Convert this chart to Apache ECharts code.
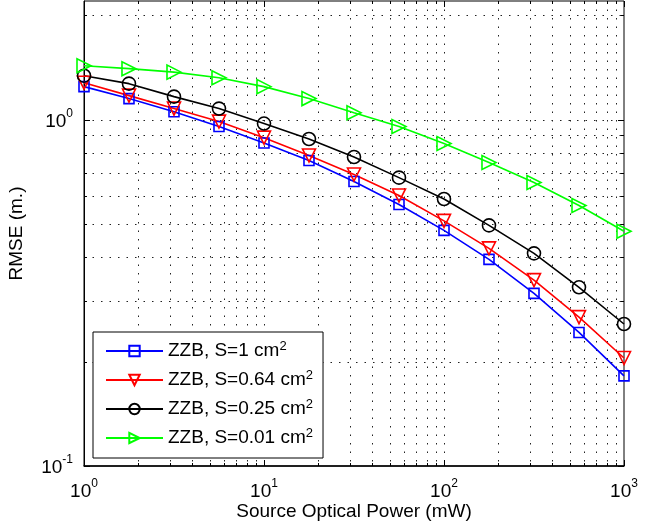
<!DOCTYPE html>
<html>
<head>
<meta charset="utf-8">
<script src="https://cdn.jsdelivr.net/npm/echarts@6/dist/echarts.min.js"></script>
<style>
html,body{margin:0;padding:0;background:#fff;}
#chart{width:657px;height:529px;}
</style>
</head>
<body>
<div id="chart"></div>
<script>
// ---- data ----
const powerMW = [1, 1.778, 3.162, 5.623, 10, 17.78, 31.62, 56.23, 100, 177.8, 316.2, 562.3, 1000];
const rmseS100 = [1.245, 1.150, 1.054, 0.955, 0.856, 0.762, 0.663, 0.569, 0.479, 0.395, 0.315, 0.243, 0.182];
const rmseS064 = [1.278, 1.173, 1.076, 0.987, 0.887, 0.788, 0.694, 0.604, 0.510, 0.425, 0.344, 0.269, 0.205];
const rmseS025 = [1.339, 1.270, 1.165, 1.076, 0.974, 0.879, 0.780, 0.680, 0.590, 0.495, 0.411, 0.328, 0.257];
const rmseS001 = [1.431, 1.403, 1.371, 1.321, 1.245, 1.150, 1.047, 0.955, 0.853, 0.752, 0.658, 0.565, 0.476];
const seriesNames = ['ZZB, S=1 cm', 'ZZB, S=0.64 cm', 'ZZB, S=0.25 cm', 'ZZB, S=0.01 cm'];
const xMajorTicks = [1, 10, 100, 1000];
const xMinorTicks = [2,3,4,5,6,7,8,9,20,30,40,50,60,70,80,90,200,300,400,500,600,700,800,900];
const yMajorTicks = [0.1, 1];
const yMinorTicks = [0.2,0.3,0.4,0.5,0.6,0.7,0.8,0.9,2];
const xRange = [1, 1000];
const yRange = [0.1, 2.2];
const xTitle = 'Source Optical Power (mW)';
const yTitle = 'RMSE (m.)';

const FONT = 'Liberation Sans, Arial, Helvetica, sans-serif';
const colors = ['#0000ff', '#ff0000', '#000000', '#00ff00'];
const symbols = ['rect', 'triangle', 'circle', 'triangle'];
const rotates = [0, 180, 0, -90];
const sizes = [10, 13, 13, 14];
const values = [rmseS100, rmseS064, rmseS025, rmseS001];

function powLabel(v) {
  const e = Math.log10(v);
  const r = Math.round(e);
  if (Math.abs(e - r) > 1e-6) return '';
  return '10{s|' + (r < 0 ? '-' + (-r) : r) + '}';
}

const dotStyle = {stroke: '#222', lineWidth: 1, lineDash: [1.5, 7]};

function xGridSeries(vals, tickLen) {
  return {
    type: 'custom', silent: true, z: 1, clip: false,
    data: vals.map(v => [v, 1]),
    renderItem: function (params, api) {
      const cs = params.coordSys;
      const x = Math.round(api.coord([api.value(0), 1])[0]) + 0.5;
      const top = cs.y, bot = cs.y + cs.height;
      const ch = [];
      if (Math.abs(x - cs.x) > 2 && Math.abs(x - (cs.x + cs.width)) > 2) {
        ch.push({type: 'line', shape: {x1: x, y1: top, x2: x, y2: bot}, style: dotStyle});
      }
      ch.push({type: 'line', shape: {x1: x, y1: bot, x2: x, y2: bot - tickLen}, style: {stroke: '#000', lineWidth: 1}});
      ch.push({type: 'line', shape: {x1: x, y1: top, x2: x, y2: top + tickLen}, style: {stroke: '#000', lineWidth: 1}});
      return {type: 'group', children: ch};
    }
  };
}
function yGridSeries(vals, tickLen) {
  return {
    type: 'custom', silent: true, z: 1, clip: false,
    data: vals.map(v => [1, v]),
    renderItem: function (params, api) {
      const cs = params.coordSys;
      const y = Math.round(api.coord([1, api.value(1)])[1]) + 0.5;
      const left = cs.x, right = cs.x + cs.width;
      const ch = [];
      if (Math.abs(y - cs.y) > 2 && Math.abs(y - (cs.y + cs.height)) > 2) {
        ch.push({type: 'line', shape: {x1: left, y1: y, x2: right, y2: y}, style: dotStyle});
      }
      ch.push({type: 'line', shape: {x1: left, y1: y, x2: left + tickLen, y2: y}, style: {stroke: '#000', lineWidth: 1}});
      ch.push({type: 'line', shape: {x1: right, y1: y, x2: right - tickLen, y2: y}, style: {stroke: '#000', lineWidth: 1}});
      return {type: 'group', children: ch};
    }
  };
}

const lineSeries = seriesNames.map((name, i) => ({
  name: name,
  type: 'line',
  z: 5,
  data: powerMW.map((x, j) => [x, values[i][j]]),
  symbol: symbols[i],
  symbolRotate: rotates[i],
  symbolSize: sizes[i],
  showAllSymbol: true,
  lineStyle: {color: colors[i], width: 1.6},
  itemStyle: {color: 'rgba(0,0,0,0)', borderColor: colors[i], borderWidth: 1.6},
  emphasis: {disabled: true}
}));

const supStyle = {fontSize: 12, fontFamily: FONT, color: '#000', verticalAlign: 'top', lineHeight: 12};

const chart = echarts.init(document.getElementById('chart'), null, {renderer: 'canvas'});
chart.setOption({
  animation: false,
  backgroundColor: '#fff',
  grid: {left: 84, right: 33, top: 1, bottom: 63, containLabel: false, outerBoundsMode: 'none',
         show: true, borderColor: '#000', borderWidth: 1, backgroundColor: 'transparent'},
  xAxis: {
    type: 'log', logBase: 10, min: xRange[0], max: xRange[1],
    name: xTitle, nameLocation: 'middle', nameGap: 36, nameMoveOverlap: false,
    nameTextStyle: {fontFamily: FONT, fontSize: 19, color: '#000'},
    axisLine: {show: true, lineStyle: {color: '#000', width: 1.5}},
    axisTick: {show: false}, splitLine: {show: false}, minorTick: {show: false},
    axisLabel: {
      formatter: powLabel, margin: 12, color: '#000', fontFamily: FONT, fontSize: 19, lineHeight: 28,
      rich: {s: supStyle}
    }
  },
  yAxis: {
    type: 'log', logBase: 10, min: yRange[0], max: yRange[1],
    name: yTitle, nameLocation: 'middle', nameGap: 58, nameRotate: 90, nameMoveOverlap: false,
    nameTextStyle: {fontFamily: FONT, fontSize: 19, color: '#000'},
    axisLine: {show: true, lineStyle: {color: '#000', width: 1}},
    axisTick: {show: false}, splitLine: {show: false}, minorTick: {show: false},
    axisLabel: {
      formatter: powLabel, margin: 11, color: '#000', fontFamily: FONT, fontSize: 19, lineHeight: 28,
      padding: [4, 0, 0, 0],
      showMaxLabel: false,
      rich: {s: supStyle}
    }
  },
  legend: {
    orient: 'vertical', left: 93, top: 332,
    padding: [8, 10, 9, 12],
    itemWidth: 57, itemHeight: 13, itemGap: 7,
    backgroundColor: '#fff', borderColor: '#000', borderWidth: 1,
    selectedMode: false,
    data: seriesNames,
    formatter: name => name + '{s|2}',
    textStyle: {
      fontFamily: FONT, fontSize: 19, color: '#000', lineHeight: 22,
      rich: {s: {fontSize: 13, fontFamily: FONT, color: '#000', verticalAlign: 'top', lineHeight: 13}}
    }
  },
  series: [
    xGridSeries(xMajorTicks, 6), xGridSeries(xMinorTicks, 3),
    yGridSeries(yMajorTicks, 6), yGridSeries(yMinorTicks, 3)
  ].concat(lineSeries)
});
</script>
</body>
</html>
